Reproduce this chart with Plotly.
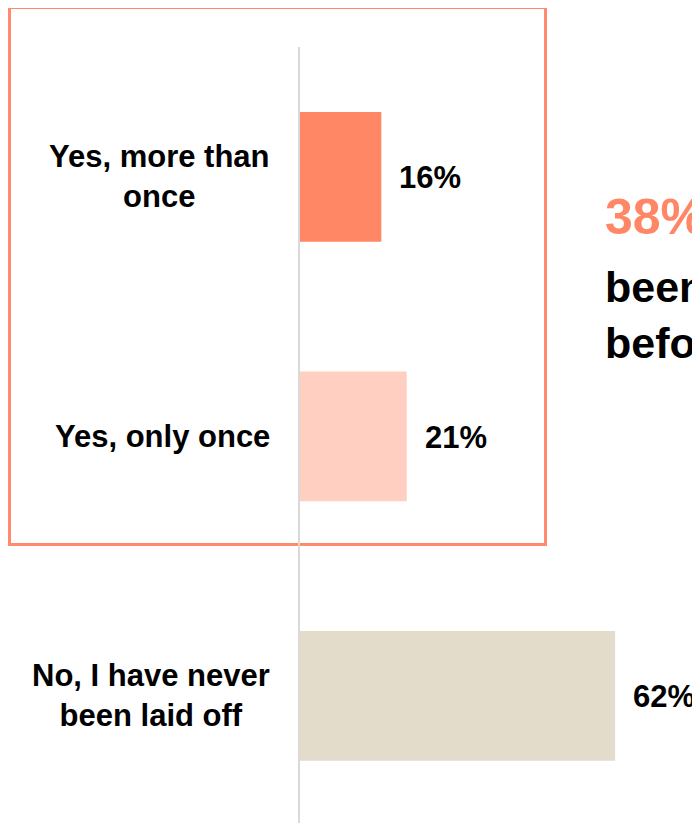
import plotly.graph_objects as go

# ── Data ──────────────────────────────────────────────────────
categories = ["Yes, more than<br>once", "Yes, only once", "No, I have never<br>been laid off"]
values = [16, 21, 62]
labels = ["16%", "21%", "62%"]
bar_colors = ["#FF8766", "#FFCFC2", "#E3DCCB"]

callout_number = "38%"
callout_text = "been laid off<br>before"

FONT = "Liberation Sans, Arial, sans-serif"
ACCENT = "#FF8766"
BOX = "#FF8A6E"
AXIS = "#D9D9D9"


# page pixels -> paper coords (plot area: x 300..700, y 47..823 on the page)
def px(x):
    return (x - 300) / 400


def py(y):
    return 1 - (y - 47) / 776


fig = go.Figure()
fig.add_trace(go.Bar(
    x=values,
    y=list(range(len(categories))),
    orientation="h",
    width=0.5,
    marker=dict(color=bar_colors, line=dict(width=0)),
    hoverinfo="skip",
))

# value labels to the right of each bar
for i, (v, lab) in enumerate(zip(values, labels)):
    fig.add_annotation(
        x=v, y=i, xref="x", yref="y",
        text=lab, showarrow=False,
        xanchor="left", xshift=16, yshift=-1,
        font=dict(family=FONT, size=31, color="#000000", weight="bold"),
    )

# category labels on the left, lines centred under each other
for i, cat in enumerate(categories):
    fig.add_annotation(
        x=0, y=i, xref="paper", yref="y",
        text=cat, showarrow=False,
        xanchor="right", xshift=-28, align="center",
        font=dict(family=FONT, size=31, color="#000000", weight="bold"),
    )

# highlight box around the "yes" answers
fig.add_shape(
    type="rect", xref="paper", yref="paper",
    x0=px(9.5), x1=px(545.5), y0=py(544.5), y1=py(7.5),
    line=dict(color=BOX, width=3),
    fillcolor="rgba(0,0,0,0)",
    layer="below",
)

# callout on the right (runs off the edge, as in the original)
fig.add_annotation(
    x=px(603), y=py(247), xref="paper", yref="paper",
    text=callout_number + " have", showarrow=False,
    xanchor="left", yanchor="bottom",
    font=dict(family=FONT, size=50, color=ACCENT, weight="bold"),
)
fig.add_annotation(
    x=px(603), y=py(261), xref="paper", yref="paper",
    text=callout_text, showarrow=False,
    xanchor="left", yanchor="top", align="left",
    font=dict(family=FONT, size=43, color="#000000", weight="bold"),
)

# the page adds an 8px body margin, so the figure is 8px smaller each way
fig.update_layout(
    width=692,
    height=815,
    margin=dict(l=292, r=0, t=39, b=0),
    paper_bgcolor="white",
    plot_bgcolor="white",
    showlegend=False,
    xaxis=dict(range=[0, 78.7], visible=False, fixedrange=True),
    yaxis=dict(
        range=[2.49, -0.5],
        showticklabels=False,
        showgrid=False,
        zeroline=False,
        showline=True,
        linecolor=AXIS,
        linewidth=2,
        fixedrange=True,
    ),
)

fig.write_html("out.html", config={"displayModeBar": False})
